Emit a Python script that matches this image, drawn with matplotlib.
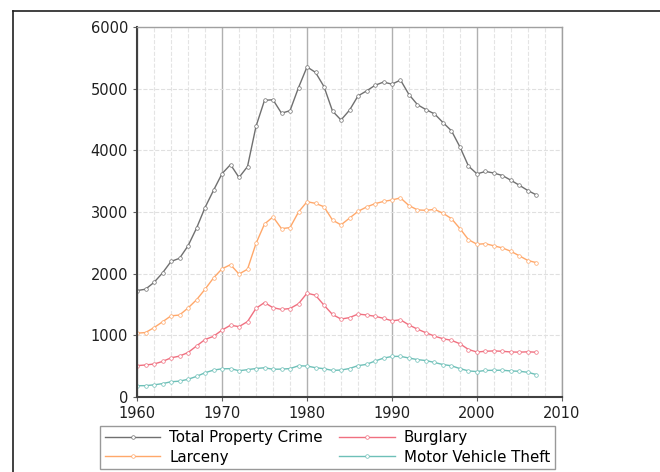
import numpy as np
import matplotlib
matplotlib.use("Agg")
import matplotlib.pyplot as plt
from matplotlib.lines import Line2D
from matplotlib.ticker import MultipleLocator

# yearly rates per 100,000
years = list(range(1960, 2008))

total = [1726, 1748, 1858, 2012, 2198, 2249, 2451, 2737, 3072, 3351,
         3621, 3769, 3560, 3737, 4389, 4811, 4820, 4602, 4643, 5017,
         5353, 5264, 5033, 4637, 4492, 4651, 4882, 4963, 5054, 5107,
         5073, 5140, 4904, 4740, 4660, 4591, 4451, 4316, 4053, 3744,
         3618, 3658, 3631, 3591, 3514, 3432, 3347, 3276]

larceny = [1035, 1045, 1125, 1219, 1316, 1329, 1443, 1576, 1747, 1931,
           2079, 2146, 1994, 2072, 2490, 2805, 2921, 2730, 2747, 2999,
           3167, 3140, 3085, 2869, 2791, 2901, 3010, 3081, 3135, 3171,
           3195, 3229, 3104, 3034, 3027, 3043, 2980, 2892, 2730, 2551,
           2477, 2486, 2451, 2417, 2362, 2288, 2213, 2178]

burglary = [509, 519, 535, 576, 635, 663, 721, 827, 932, 984,
            1085, 1164, 1141, 1223, 1438, 1532, 1448, 1420, 1435, 1512,
            1684, 1650, 1489, 1338, 1264, 1287, 1345, 1330, 1309, 1276,
            1236, 1252, 1168, 1100, 1042, 987, 945, 919, 863, 770,
            729, 742, 747, 741, 730, 727, 733, 726]

motor = [183, 184, 197, 217, 247, 257, 287, 334, 393, 436,
         457, 460, 426, 443, 462, 474, 450, 452, 461, 506,
         502, 475, 459, 431, 437, 462, 508, 529, 583, 630,
         658, 659, 632, 606, 591, 560, 526, 506, 460, 423,
         412, 431, 433, 434, 422, 417, 400, 363]

labels = ["Total Property Crime", "Burglary", "Larceny", "Motor Vehicle Theft"]
colors = ["#707070", "#f07080", "#ffa86a", "#6ec0b8"]

fig = plt.figure(figsize=(6.6, 4.72), dpi=100)
ax = fig.add_axes([0.2076, 0.1589, 0.6439, 0.7839])

series = [total, burglary, larceny, motor]
handles = []
for vals, c, lab in zip(series, colors, labels):
    h, = ax.plot(years, vals, color=c, lw=1.0, marker="o", ms=2.6,
                 mfc="white", mec=c, mew=0.5, label=lab)
    handles.append(h)

ax.set_xlim(1960, 2010)
ax.set_ylim(0, 6000)
ax.xaxis.set_major_locator(MultipleLocator(10))
ax.xaxis.set_minor_locator(MultipleLocator(2))
ax.yaxis.set_major_locator(MultipleLocator(1000))

ax.grid(which="major", axis="x", color="#b0b0b0", lw=1.0, ls="-")
ax.grid(which="minor", axis="x", color="#e4e4e4", lw=0.8, ls="--")
ax.grid(which="major", axis="y", color="#e0e0e0", lw=0.8, ls="--")
ax.set_axisbelow(True)

for s in ["left", "bottom"]:
    ax.spines[s].set_color("#404040")
    ax.spines[s].set_linewidth(1.5)
for s in ["top", "right"]:
    ax.spines[s].set_color("#a0a0a0")
    ax.spines[s].set_linewidth(1.0)

ax.tick_params(axis="both", which="major", labelsize=10.5, length=3,
               color="#606060", labelcolor="#202020")
ax.tick_params(axis="both", which="minor", length=0)

# legend in a box below the axes, partly cut off by the figure edge
order = [0, 2, 1, 3]
leg = fig.legend([handles[i] for i in order], [labels[i] for i in order],
                 ncol=2, loc="upper left", bbox_to_anchor=(0.152, 0.098),
                 bbox_transform=fig.transFigure, fontsize=10.8, frameon=True,
                 fancybox=False, edgecolor="#808080", handlelength=3.7,
                 columnspacing=1.1, labelspacing=0.3, borderpad=0.3,
                 handletextpad=0.6, borderaxespad=0)
leg.get_frame().set_linewidth(1.0)

# outer frame lines (top and left)
fig.add_artist(Line2D([13 / 660, 1.0], [1 - 11 / 472, 1 - 11 / 472],
                      transform=fig.transFigure, color="#202020", lw=1.2))
fig.add_artist(Line2D([13 / 660, 13 / 660], [0, 1 - 11 / 472],
                      transform=fig.transFigure, color="#202020", lw=1.2))

fig.savefig("out.png", dpi=100)
